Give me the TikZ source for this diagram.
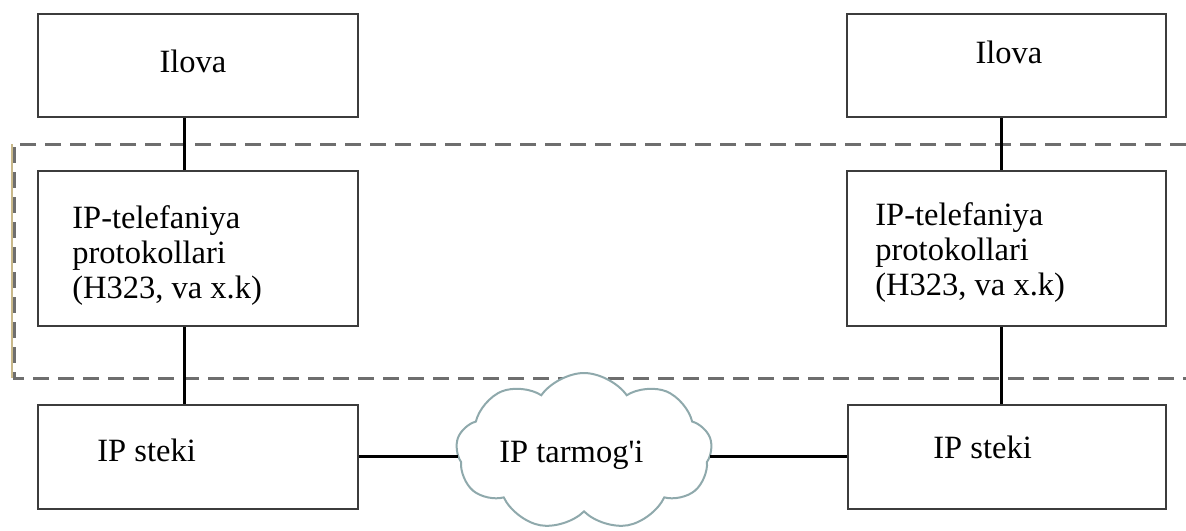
\documentclass[tikz,border=0pt]{standalone}
\usepackage{fontspec}
\setmainfont{Liberation Serif}
\usetikzlibrary{shapes.symbols}
\definecolor{boxgray}{HTML}{3C3C3C}
\definecolor{dashgray}{HTML}{6E6E6E}
\definecolor{cloudcol}{HTML}{8FA9AC}
\definecolor{tanedge}{HTML}{C8B88A}
\begin{document}
\begin{tikzpicture}[x=0.5pt,y=-0.5pt,
  box/.style={draw=boxgray, line width=1pt, fill=white, inner sep=0pt, minimum width=160pt},
  conn/.style={draw=black, line width=1.5pt},
  grp/.style={draw=dashgray, line width=1.5pt, dash pattern=on 8pt off 4.5pt},
  txt/.style={font=\fontsize{16.25}{17.5}\selectfont, inner sep=0pt, text=black},
  netcloud/.style={cloud, cloud puffs=9, cloud puff arc=110, draw=cloudcol, line width=1pt, fill=white, aspect=1.63, minimum width=128pt, minimum height=78.5pt, inner sep=0pt},
]
\useasboundingbox (0,0) rectangle (1186,530);
% group (dashed) frame
\coordinate (gtr) at (1186,144);
\coordinate (gtl) at (14,144);
\coordinate (gbl) at (14,378);
\coordinate (gbr) at (1186,378);
\draw[tanedge, line width=1pt] (gtl) ++(-2,0) -- ([xshift=-1pt]gbl);
\draw[grp] (gtr) -- (gtl) -- (gbl) -- (gbr);
% helper coordinates
\coordinate (xl) at (184,0);
\coordinate (xr) at (1001,0);
\coordinate (yh) at (0,456);
% boxes
\node[box, minimum height=51.5pt] (lt) at (198,65.5) {};
\node[box, minimum width=159.5pt, minimum height=51.5pt] (rt) at (1006.5,65.5) {};
\node[box, minimum height=77.5pt] (lm) at (198,248.5) {};
\node[box, minimum width=159.5pt, minimum height=77.5pt] (rm) at (1006.5,248.5) {};
\node[box, minimum height=52pt] (lb) at (198,457) {};
\node[box, minimum width=159pt, minimum height=52pt] (rb) at (1007,457) {};
% connectors
\draw[conn] (lt.south -| xl) -- (lm.north -| xl);
\draw[conn] (lm.south -| xl) -- (lb.north -| xl);
\draw[conn] (rt.south -| xr) -- (rm.north -| xr);
\draw[conn] (rm.south -| xr) -- (rb.north -| xr);
\node[netcloud] (net) at (584,451.5) {};
\draw[conn] (lb.east |- yh) -- ([xshift=1pt]net.west |- yh);
\draw[conn] ([xshift=-1pt]net.east |- yh) -- (rb.west |- yh);
% texts
\node[txt, anchor=base] (ltt) at (193,72) {Ilova};
\node[txt, anchor=base] (rtt) at (1009,63) {Ilova};
\node[txt, anchor=base west, align=left] (lmt) at (72,298) {IP-telefaniya\\protokollari\\(H323, va x.k)};
\node[txt, anchor=base west, align=left] (rmt) at (875,295) {IP-telefaniya\\protokollari\\(H323, va x.k)};
\node[txt, anchor=base west] (lbt) at (97,461) {IP steki};
\node[txt, anchor=base west] (rbt) at (933,458) {IP steki};
\node[txt, anchor=base west] (nett) at (499,462) {IP tarmog\textquotesingle i};
\end{tikzpicture}
\end{document}
